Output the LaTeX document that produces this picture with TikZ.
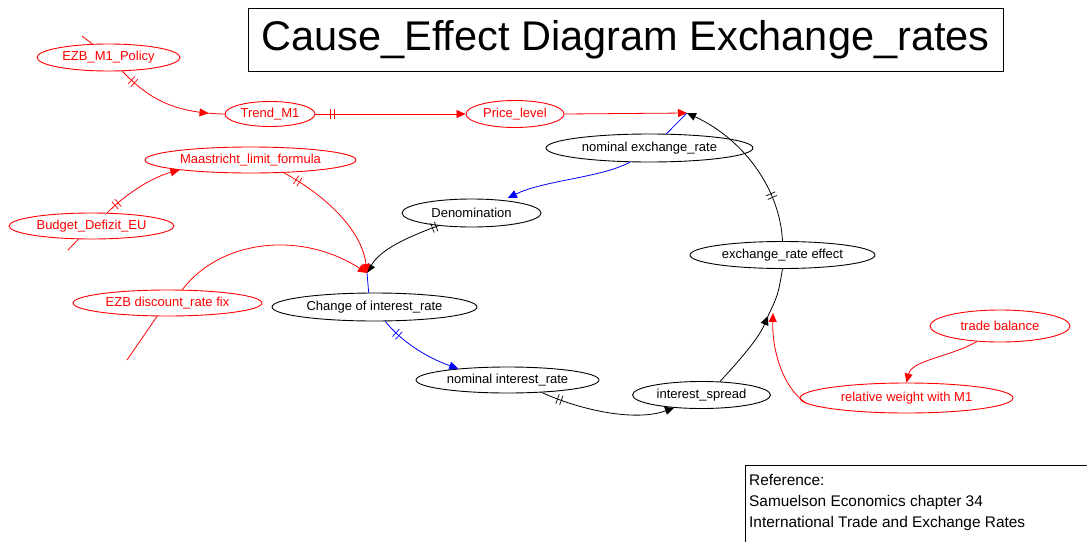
\documentclass[tikz,border=0pt]{standalone}
\usepackage{fontspec}
\setmainfont{Liberation Sans}
\usetikzlibrary{arrows.meta,shapes.geometric,decorations.markings}
\definecolor{rd}{RGB}{255,0,0}
\definecolor{bu}{RGB}{0,0,255}
\tikzset{
 ell/.style={ellipse, draw, line width=0.9pt, inner sep=0pt, font=\fontsize{13}{15}\selectfont},
 rnode/.style={ell, draw=rd, text=rd},
 knode/.style={ell, draw=black, text=black},
 con/.style={line width=0.8pt},
 rl/.style={con, color=rd},
 bl/.style={con, color=bu},
 kl/.style={con, color=black},
 tip/.style={-{Triangle[length=9pt,width=8pt]}},
 dbltick/.style={postaction={decorate,decoration={markings,mark=at position #1 with {\draw[-,shorten >=0pt,shorten <=0pt,line width=0.7pt] (-2pt,-5pt)--(-2pt,5pt) (2pt,-5pt)--(2pt,5pt);}}}},
 midtip/.style={postaction={decorate,decoration={markings,mark=at position #1 with {\arrow{Triangle[length=9pt,width=8pt]}}}}},
}
\begin{document}
\begin{tikzpicture}[x=1pt,y=-1pt]
\useasboundingbox (0,0) rectangle (1087,541);
% title
\node[draw, line width=0.8pt, minimum width=755pt, minimum height=63pt, inner sep=0pt, font=\fontsize{41.5}{48}\selectfont] (title) at (625.5,39.5) {Cause\_Effect Diagram Exchange\_rates};
% reference box
\node[draw, line width=0.8pt, anchor=north west, minimum width=345pt, minimum height=95pt, inner sep=0pt] (refbox) at (745,465) {};
\node[anchor=north west, align=left, inner sep=0pt, font=\fontsize{15.4}{21}\selectfont] (reftext) at (749,474.5) {Reference:\\Samuelson Economics chapter 34\\International Trade and Exchange Rates};
% nodes
\node[rnode, minimum width=143pt, minimum height=27pt] (ezbm) at (108.5,57.5) {EZB\_M1\_Policy};
\node[rnode, minimum width=90pt, minimum height=25pt] (trend) at (270,114) {Trend\_M1};
\node[rnode, minimum width=98pt, minimum height=27pt] (price) at (515,114) {Price\_level};
\node[knode, minimum width=207pt, minimum height=28pt] (nomex) at (649.5,148) {nominal exchange\_rate};
\node[knode, minimum width=139pt, minimum height=28pt] (denom) at (471.5,213) {Denomination};
\node[rnode, minimum width=211pt, minimum height=26pt] (maas) at (250.5,160) {Maastricht\_limit\_formula};
\node[rnode, minimum width=165pt, minimum height=26pt] (budget) at (91.5,226) {Budget\_Defizit\_EU};
\node[rnode, minimum width=189pt, minimum height=26pt] (disc) at (167.5,303) {EZB discount\_rate fix};
\node[knode, minimum width=205pt, minimum height=28pt] (chg) at (374.5,307) {Change of interest\_rate};
\node[knode, minimum width=183pt, minimum height=26pt] (nomint) at (507.5,380) {nominal interest\_rate};
\node[knode, minimum width=138pt, minimum height=27pt] (spread) at (701.5,395) {interest\_spread};
\node[knode, minimum width=185pt, minimum height=27pt] (exch) at (782.5,255) {exchange\_rate effect};
\node[rnode, minimum width=140pt, minimum height=32pt] (trade) at (1000,326) {trade balance};
\node[rnode, minimum width=213pt, minimum height=30pt] (relw) at (906.5,398) {relative weight with M1};
% junctions and free ends
\coordinate (cX) at (687,113);
\coordinate (cC) at (367,273);
\coordinate (cE) at (768,316);
\coordinate (cE2) at (773,313);
\coordinate (fA) at (82,36);
\coordinate (fB) at (68,250);
\coordinate (fC) at (127,360);
% connectors
\draw[rl] (ezbm.140) -- (fA);
\draw[rl, dbltick=0.13, midtip=0.86] (ezbm.-45) .. controls (150,100) and (175,113) .. (trend.west);
\draw[rl, tip, dbltick=0.11] (trend.east) -- (price.west);
\draw[rl, tip] (price.east) -- (cX);
\draw[bl] (nomex.40) -- (cX);
\draw[bl, tip, shorten >=5pt] (nomex.-144) .. controls (600,178) and (545,180) .. (denom.22);
\draw[kl, tip, dbltick=0.05] (denom.-159) .. controls (405,238) and (380,250) .. (cC);
\draw[bl] (cC) -- (chg.112);
\draw[bl, tip, dbltick=0.2] (chg.-53) .. controls (400,340) and (425,357) .. (nomint.167);
\draw[kl, tip, dbltick=0.14] (nomint.-20) .. controls (580,410) and (635,422) .. (spread.-155);
\draw[kl, tip] (spread.36) .. controls (735,365) and (758,340) .. (cE);
\draw[kl] (cE) .. controls (778,295) .. (exch.south);
\draw[kl, tip, dbltick=0.28] (exch.north) .. controls (780,190) and (745,140) .. (cX);
\draw[rl, tip] (trade.-146) .. controls (950,357) and (912,360) .. (relw.north);
\draw[rl, tip] (relw.-177) .. controls (780,385) and (772,345) .. (cE2);
\draw[rl, tip, dbltick=0.15] (budget.40) .. controls (125,195) and (150,178) .. (maas.188);
\draw[rl] (budget.-135) -- (fB);
\draw[rl, tip, dbltick=0.12] (maas.-21) .. controls (325,195) and (362,230) .. (cC);
\draw[rl, tip] (disc.42) .. controls (220,240) and (300,230) .. (cC);
\draw[rl] (disc.-128) -- (fC);
\end{tikzpicture}
\end{document}
